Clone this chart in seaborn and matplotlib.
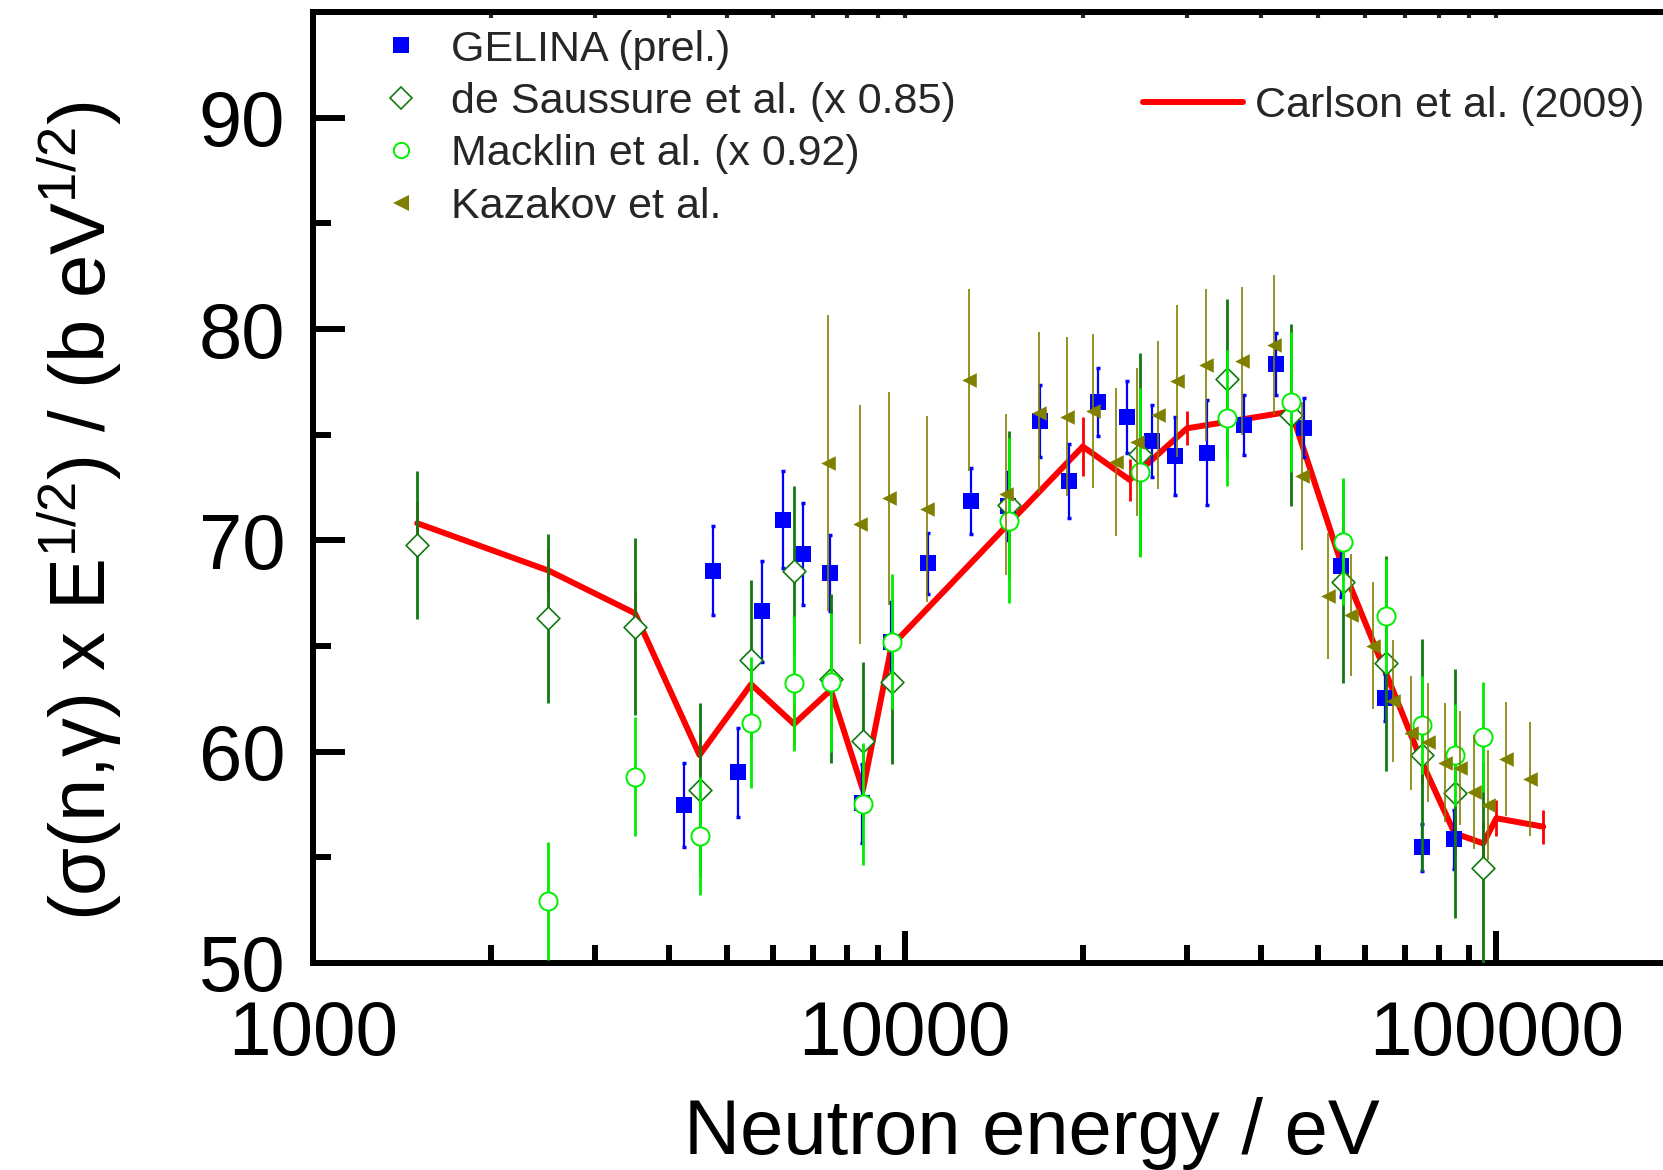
import numpy as np
import pandas as pd
import matplotlib
matplotlib.use('Agg')
import matplotlib.pyplot as plt
import seaborn as sns
from matplotlib.lines import Line2D
from matplotlib.ticker import FixedLocator, NullFormatter, LogLocator

# ---------------- data ----------------
gelina_e = [4234, 4740, 5232, 5736, 6232, 6735, 7474, 8453, 9475, 10960, 12940, 14955,
            16940, 18970, 21210, 23710, 26200, 28660, 32410, 37430, 42400, 47270,
            54730, 64790, 74820, 84840]
gelina_v = [57.48, 68.57, 59.02, 66.64, 70.97, 69.36, 68.47, 57.55, 65.2, 68.92, 71.86, 71.63,
            75.65, 72.81, 76.55, 75.83, 74.70, 73.99, 74.15, 75.46, 78.35, 75.33,
            68.80, 62.56, 55.47, 55.85]
gelina_err = [2.0, 2.1, 2.1, 2.4, 2.3, 2.4, 1.8, 1.85, 1.9, 1.45, 1.55, 1.6,
              1.7, 1.75, 1.6, 1.7, 1.7, 1.85, 2.5, 1.4, 1.45, 1.4,
              1.5, 1.1, 1.1, 1.4]

saussure_e = [1500, 2500, 3500, 4500, 5500, 6500, 7500, 8500, 9500, 15000, 25000, 35000,
              45000, 55000, 65000, 75000, 85000, 95000]
saussure_v = [69.80, 66.31, 65.92, 58.19, 64.34, 68.57, 63.46, 60.52, 63.31, 71.67, 74.07, 77.64,
              75.93, 68.05, 64.18, 59.84, 58.03, 54.51]
saussure_err = [3.5, 4.0, 4.2, 4.1, 3.8, 4.0, 4.0, 3.7, 3.9, 3.5, 4.8, 3.8,
                4.3, 4.8, 5.1, 5.5, 5.9, 5.0]

macklin_e = [2500, 3500, 4500, 5500, 6500, 7500, 8500, 9500, 15000, 25000, 35000, 45000,
             55000, 65000, 75000, 85000, 95000]
macklin_v = [52.93, 58.82, 56.01, 61.37, 63.24, 63.28, 57.52, 65.21, 70.93, 73.22, 75.79, 76.55,
             69.94, 66.42, 61.26, 59.84, 60.71]
macklin_err = [2.8, 2.8, 2.8, 3.1, 3.2, 3.3, 2.9, 3.2, 3.9, 4.0, 3.2, 3.3,
               3.0, 2.7, 2.3, 2.4, 2.6]

kazakov_e = [7426, 8402, 9415, 10890, 12850, 14860, 16880, 18830, 20820, 22800, 24690, 26750,
             28800, 32240, 37230, 42130, 46960, 51950, 56890, 61900, 66930, 71860, 76680,
             81820, 86770, 91730, 96850, 104000, 113900]
kazakov_v = [73.65, 70.76, 71.99, 71.47, 77.59, 72.18, 76.04, 75.85, 76.12, 73.71, 74.67, 75.93,
             77.54, 78.30, 78.49, 79.25, 73.06, 67.37, 66.47, 65.02, 62.40, 60.90, 60.44,
             59.48, 59.21, 58.11, 57.48, 59.65, 58.71]
kazakov_err = [7.0, 5.65, 5.05, 4.4, 4.3, 3.8, 3.8, 3.75, 3.65, 3.5, 3.5, 3.5,
               3.6, 3.6, 3.5, 3.3, 3.5, 3.0, 2.9, 3.0, 2.9, 2.7, 2.8,
               2.8, 2.7, 2.7, 2.6, 2.7, 2.7]

carlson_e = [1500, 2500, 3500, 4500, 5500, 6500, 7500, 8500, 9500, 15000, 20000, 24000,
             30000, 45000, 55000, 65000, 75000, 85000, 95000, 100000, 120000]
carlson_v = [70.81, 68.57, 66.55, 59.84, 63.19, 61.31, 62.92, 58.19, 65.0, 70.8, 74.44, 72.86,
             75.30, 76.1, 68.7, 63.75, 59.45, 56.14, 55.66, 56.85, 56.45]
carlson_err = [1.0, 1.0, 1.0, 1.0, 1.0, 1.0, 1.0, 1.0, 1.0, 1.2, 1.4, 1.0,
               0.8, 1.0, 1.0, 1.0, 1.0, 1.0, 1.0, 0.85, 0.8]

x_ticks = [1000, 10000, 100000]
x_ticklabels = ['1000', '10000', '100000']
y_ticks = [50, 60, 70, 80, 90]
y_minor = [55, 65, 75, 85]

labels = ['GELINA (prel.)', 'de Saussure et al. (x 0.85)', 'Macklin et al. (x 0.92)',
          'Kazakov et al.', 'Carlson et al. (2009)']

# ---------------- style ----------------
sns.set_theme(style='white')
plt.rcParams['font.family'] = ['Liberation Sans', 'DejaVu Sans']
plt.rcParams['mathtext.fontset'] = 'custom'
plt.rcParams['mathtext.rm'] = 'Liberation Sans'
plt.rcParams['mathtext.it'] = 'Liberation Sans:italic'
plt.rcParams['mathtext.bf'] = 'Liberation Sans:bold'

BLUE = '#0000FF'
DKGREEN = '#117A11'
LTGREEN = '#00EE00'
OLIVE = '#808000'
RED = '#FF0000'

W, H = 1663, 1170
fig = plt.figure(figsize=(W / 100, H / 100), dpi=100)
ax = fig.add_axes([313 / W, (H - 963) / H, 1361.5 / W, 951 / H])

# Carlson line (bottom layer)
ax.errorbar(carlson_e, carlson_v, yerr=carlson_err, fmt='none', ecolor=RED,
            elinewidth=2.0, zorder=2)
sns.lineplot(x=carlson_e, y=carlson_v, color=RED, linewidth=4.3, sort=False,
             ax=ax, zorder=2, legend=False)

# GELINA
ax.errorbar(gelina_e, gelina_v, yerr=gelina_err, fmt='none', ecolor=BLUE,
            elinewidth=1.6, capsize=1.5, capthick=2.5, zorder=3)
sns.scatterplot(x=gelina_e, y=gelina_v, marker='s', s=140, color=BLUE,
                edgecolor=BLUE, linewidth=0, ax=ax, zorder=3, legend=False)

# de Saussure
ax.errorbar(saussure_e, saussure_v, yerr=saussure_err, fmt='none', ecolor=DKGREEN,
            elinewidth=2.0, zorder=4)
sns.scatterplot(x=saussure_e, y=saussure_v, marker='D', s=135, color='white',
                edgecolor=DKGREEN, linewidth=1.2, ax=ax, zorder=4, legend=False)

# Macklin
ax.errorbar(macklin_e, macklin_v, yerr=macklin_err, fmt='none', ecolor=LTGREEN,
            elinewidth=2.0, zorder=5)
sns.scatterplot(x=macklin_e, y=macklin_v, marker='o', s=170, color='white',
                edgecolor=LTGREEN, linewidth=1.4, ax=ax, zorder=5, legend=False)

# Kazakov
ax.errorbar(kazakov_e, kazakov_v, yerr=kazakov_err, fmt='none', ecolor=OLIVE,
            elinewidth=1.2, zorder=6)
sns.scatterplot(x=kazakov_e, y=kazakov_v, marker='<', s=110, color=OLIVE,
                edgecolor=OLIVE, linewidth=0, ax=ax, zorder=6, legend=False)

# ---------------- axes ----------------
ax.set_xscale('log')
ax.set_xlim(1000, 200000)
ax.set_ylim(50, 95)
ax.set_xticks(x_ticks)
ax.set_xticklabels(x_ticklabels)
ax.xaxis.set_minor_locator(LogLocator(base=10, subs=np.arange(2, 10)))
ax.xaxis.set_minor_formatter(NullFormatter())
ax.set_yticks(y_ticks)
ax.yaxis.set_minor_locator(FixedLocator(y_minor))
ax.set_xlabel('')
ax.set_ylabel('')

for side in ['left', 'bottom', 'top', 'right']:
    ax.spines[side].set_linewidth(4.3)
    ax.spines[side].set_color('black')
ax.tick_params(axis='both', which='major', direction='in', length=23, width=4.3,
               color='black', labelcolor='black',
               bottom=True, left=True, top=False, right=False)
ax.tick_params(axis='x', which='major', labelsize=55, pad=27)
ax.tick_params(axis='y', which='major', labelsize=56, pad=20)
ax.tick_params(axis='both', which='minor', direction='in', length=13, width=4.3,
               color='black', bottom=True, left=True, top=False, right=False)

sec = ax.secondary_xaxis('top')
sec.set_xticks(x_ticks)
sec.xaxis.set_minor_locator(LogLocator(base=10, subs=np.arange(2, 10)))
sec.xaxis.set_minor_formatter(NullFormatter())
sec.tick_params(axis='x', which='both', direction='in', length=4, width=3,
                labeltop=False)
sec.spines['top'].set_linewidth(4.3)

fig.text(1032 / W, 1 - 1133 / H, 'Neutron energy / eV', ha='center', va='center',
         fontsize=56, color='black')
fig.text(80 / W, 1 - 511 / H,
         r'(σ(n,γ) x $\mathrm{E}^{1/2}$) / (b e$\mathrm{V}^{1/2}$)',
         rotation=90, ha='center', va='center', fontsize=56, color='black')

# ---------------- legends ----------------
h1 = [Line2D([], [], linestyle='none', marker='s', markersize=11.8, color=BLUE,
             markeredgewidth=0),
      Line2D([], [], linestyle='none', marker='D', markersize=11.2, markerfacecolor='white',
             markeredgecolor=DKGREEN, markeredgewidth=1.2),
      Line2D([], [], linestyle='none', marker='o', markersize=11, markerfacecolor='white',
             markeredgecolor=LTGREEN, markeredgewidth=1.4),
      Line2D([], [], linestyle='none', marker='<', markersize=11.5, color=OLIVE,
             markeredgewidth=0)]
leg1 = fig.legend(h1, labels[:4], loc='upper left',
                  bbox_to_anchor=(379.5 / W, 1 - 29.5 / H), frameon=False,
                  fontsize=31, handlelength=1.0, handletextpad=0.66,
                  labelspacing=0.29, borderpad=0, borderaxespad=0)
h2 = [Line2D([], [], color=RED, linewidth=4.3, solid_capstyle='round')]
leg2 = fig.legend(h2, labels[4:], loc='upper left',
                  bbox_to_anchor=(1143 / W, 1 - 86.5 / H), frameon=False,
                  fontsize=31, handlelength=2.33, handletextpad=0.28,
                  borderpad=0, borderaxespad=0)

fig.savefig('out.png', dpi=100)
